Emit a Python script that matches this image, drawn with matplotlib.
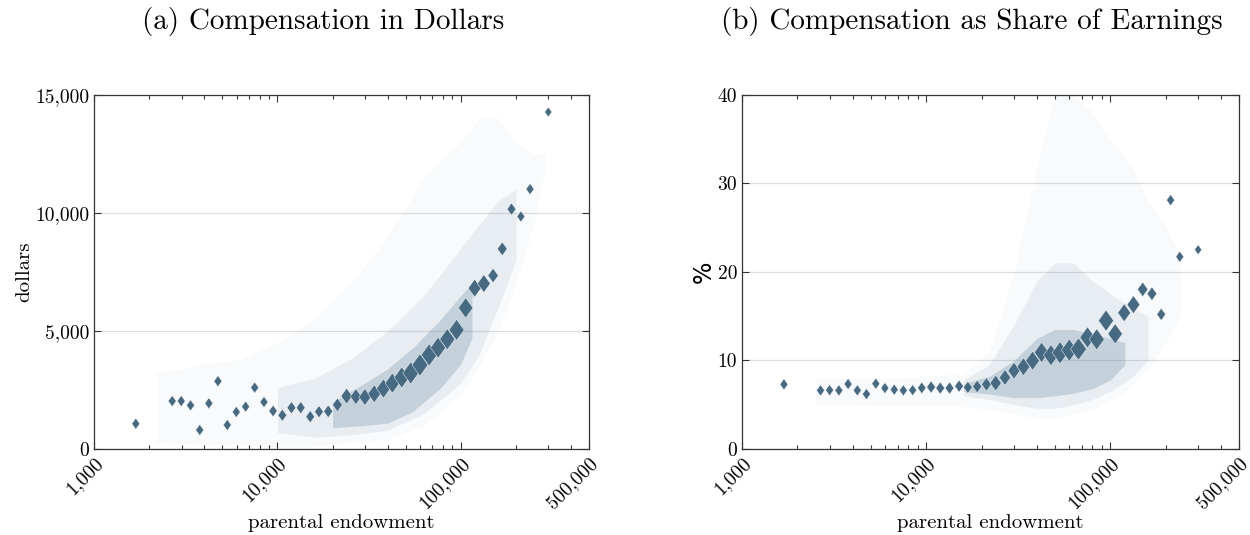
import matplotlib
matplotlib.use("Agg")
import matplotlib.pyplot as plt
from matplotlib.ticker import FixedLocator, FuncFormatter, NullFormatter

plt.rcParams['font.family'] = 'serif'
plt.rcParams['font.serif'] = ['cmr10', 'DejaVu Serif']
plt.rcParams['axes.formatter.use_mathtext'] = True

# binned means by parental endowment
endowment = [1690, 2670, 2990, 3360, 3770, 4230, 4740, 5330, 5970, 6710,
             7520, 8450, 9470, 10640, 11930, 13400, 15100, 16850, 18930, 21250,
             23850, 26800, 30000, 33750, 37850, 42350, 47650, 53350, 59900, 67200,
             75200, 84400, 94800, 106300, 119000, 133600, 150000, 168300, 189000, 212500,
             238500, 300000]
comp_dollars = [1070, 2030, 2030, 1850, 805, 1935, 2870, 1017, 1570, 1795,
                2600, 1990, 1610, 1430, 1750, 1750, 1370, 1580, 1595, 1870,
                2240, 2217, 2200, 2340, 2560, 2790, 3030, 3220, 3560, 3983,
                4290, 4648, 5042, 5975, 6809, 7005, 7343, 8474, 10156, 9843,
                11003, 14266]
comp_share = [7.30, 6.62, 6.65, 6.62, 7.34, 6.62, 6.20, 7.38, 6.88, 6.70,
              6.62, 6.65, 6.90, 7.00, 6.88, 6.88, 7.10, 6.96, 7.06, 7.30,
              7.45, 8.07, 8.84, 9.29, 9.97, 10.91, 10.60, 10.87, 11.17, 11.29,
              12.60, 12.38, 14.50, 13.00, 15.38, 16.30, 18.02, 17.53, 15.20, 28.10,
              21.70, 22.50]
# relative number of observations in each bin (marker area)
bin_weight = [1, 1, 1, 1, 1, 1, 1, 1, 1, 1,
              1, 1, 1.1, 1.2, 1.2, 1.2, 1.2, 1.2, 1.3, 1.5,
              2, 2, 2.3, 2.6, 3, 3.3, 3.6, 4, 4, 4,
              3.6, 3.6, 3.6, 3.3, 2.6, 2.6, 1.7, 1.5, 1.2, 1,
              1, 0.8]

# faint individual observations, summarised as bands (outer / middle / core)
d_outer_x = [2200, 4000, 6300, 10000, 16000, 25000, 40000, 63000, 100000, 126000, 160000, 200000, 250000, 290000]
d_outer_lo = [300, 200, 200, 100, 100, 300, 400, 1000, 2300, 3500, 5000, 7000, 9500, 12000]
d_outer_hi = [3200, 3600, 3800, 4500, 5500, 7000, 9000, 11500, 13000, 14000, 14000, 13000, 12500, 12500]
d_mid_x = [10000, 16000, 25000, 40000, 63000, 100000, 126000, 160000, 200000]
d_mid_lo = [700, 500, 600, 800, 1500, 2800, 4000, 6000, 8000]
d_mid_hi = [2600, 3000, 3800, 5000, 6500, 8500, 9500, 10500, 11000]
d_core_x = [20000, 30000, 40000, 55000, 78000, 100000, 115000]
d_core_lo = [900, 1000, 1100, 1600, 2600, 3600, 4700]
d_core_hi = [2000, 2800, 3400, 4300, 5500, 6500, 7000]

s_outer_x = [2500, 4000, 6300, 10000, 16000, 22000, 30000, 40000, 50000, 63000, 80000, 100000, 130000, 160000, 200000, 240000]
s_outer_lo = [5, 5, 4.8, 4.8, 4.8, 4.5, 4, 3.5, 3.5, 4, 4.5, 5.5, 7, 9, 12, 15]
s_outer_hi = [8, 8, 8, 8.2, 8.5, 11, 20, 32, 40, 40, 38, 35, 32, 28, 25, 22]
s_mid_x = [16000, 22000, 30000, 40000, 50000, 63000, 80000, 100000, 130000, 160000]
s_mid_lo = [6, 5.6, 5, 4.6, 4.6, 5, 5.6, 6.5, 8, 10]
s_mid_hi = [7.8, 9.5, 14, 19, 21, 21, 19, 17.5, 16, 15]
s_core_x = [16000, 22000, 30000, 40000, 50000, 63000, 80000, 100000, 120000]
s_core_lo = [6.5, 6.2, 5.8, 5.8, 6, 6.3, 6.8, 7.8, 9.5]
s_core_hi = [7.4, 8.2, 10, 12.5, 13.5, 13.5, 13, 12.5, 12]

dot_color = '#5f8199'
mark_color = '#476a83'
diamond = [(0, 1), (0.72, 0), (0, -1), (-0.72, 0), (0, 1)]

fig = plt.figure(figsize=(12.5, 5.35), dpi=100)
ax1 = fig.add_axes([0.0752, 0.1607, 0.396, 0.6623])
ax2 = fig.add_axes([0.5936, 0.1607, 0.3976, 0.6623])


def draw_panel(ax, bands, yvals, yticks, ylabels):
    for (bx, lo, hi), a in zip(bands, [0.04, 0.1, 0.26]):
        ax.fill_between(bx, lo, hi, color=dot_color, alpha=a, lw=0, zorder=1)
    ax.scatter(endowment, yvals, s=[w * 64 for w in bin_weight], marker=diamond,
               color=mark_color, edgecolors='white', linewidths=0.3, zorder=3)
    ax.set_xscale('log')
    ax.set_xlim(1000, 500000)
    ax.set_ylim(yticks[0], yticks[-1])
    ax.xaxis.set_major_locator(FixedLocator([1000, 10000, 100000, 500000]))
    ax.xaxis.set_major_formatter(FuncFormatter(lambda v, p: f'{int(v):,}'))
    minors = [m * 10 ** k for k in (3, 4, 5) for m in range(2, 10) if m * 10 ** k < 500000]
    ax.xaxis.set_minor_locator(FixedLocator(minors))
    ax.xaxis.set_minor_formatter(NullFormatter())
    ax.yaxis.set_major_locator(FixedLocator(yticks))
    ax.set_yticklabels(ylabels)
    ax.tick_params(which='both', direction='in', top=True, right=True,
                   labelsize=14, color='#333333', width=0.8)
    ax.tick_params(which='major', length=5)
    ax.tick_params(which='minor', length=3)
    for lab in ax.get_xticklabels():
        lab.set_rotation(45)
        lab.set_ha('right')
        lab.set_rotation_mode('anchor')
    ax.grid(axis='y', color='#dedede', lw=0.9, zorder=0)
    ax.set_axisbelow(True)
    for sp in ax.spines.values():
        sp.set_color('#333333')
        sp.set_linewidth(0.9)
    ax.set_xlabel('parental endowment', fontsize=15, labelpad=2)


draw_panel(ax1, [(d_outer_x, d_outer_lo, d_outer_hi), (d_mid_x, d_mid_lo, d_mid_hi),
                 (d_core_x, d_core_lo, d_core_hi)],
           comp_dollars, [0, 5000, 10000, 15000], ['0', '5,000', '10,000', '15,000'])
ax1.set_ylabel('dollars', fontsize=15, labelpad=1)

draw_panel(ax2, [(s_outer_x, s_outer_lo, s_outer_hi), (s_mid_x, s_mid_lo, s_mid_hi),
                 (s_core_x, s_core_lo, s_core_hi)],
           comp_share, [0, 10, 20, 30, 40], ['0', '10', '20', '30', '40'])
ax2.set_ylabel('%', fontsize=17, family='DejaVu Sans', labelpad=1)

fig.text(323 / 1250, 1 - 22 / 535, '(a) Compensation in Dollars', fontsize=21, ha='center', va='center')
fig.text(972 / 1250, 1 - 22 / 535, '(b) Compensation as Share of Earnings', fontsize=21, ha='center', va='center')

fig.savefig('out.png', dpi=100)
